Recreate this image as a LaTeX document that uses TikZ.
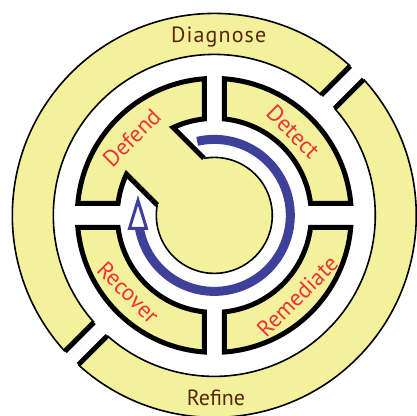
\documentclass[tikz,border=0pt]{standalone}
\usepackage{fontspec}
\newfontfamily\labelfont{PT Sans}
\newfontfamily\spacedfont[LetterSpace=5]{PT Sans}
\usepackage{tikz}
\usetikzlibrary{calc}
\definecolor{pad}{RGB}{244,241,156}
\definecolor{cyclered}{RGB}{238,52,52}
\definecolor{ringbrown}{RGB}{88,38,10}
\definecolor{loopblue}{RGB}{62,64,154}

\begin{document}
\begin{tikzpicture}[x=1pt,y=1pt,
    thinedge/.style={line width=1.6pt},
    thickedge/.style={line width=5pt},
    inlabel/.style={text=cyclered,font=\labelfont\fontsize{23}{23}\selectfont},
    outlabel/.style={text=ringbrown,font=\labelfont\fontsize{22}{22}\selectfont}]
  \useasboundingbox (-214.3,-200.6) rectangle (201.7,215.4);
  \pgfmathsetmacro{\ao}{asin(9.5/202)}
  \pgfmathsetmacro{\ai}{asin(9.5/161)}
  \pgfmathsetmacro{\vo}{asin(10/137)}
  \pgfmathsetmacro{\ho}{asin(12/137)}
  \pgfmathsetmacro{\vi}{asin(10/97)}
  \pgfmathsetmacro{\hi}{asin(12/97)}
  \pgfmathsetmacro{\bi}{asin(33/97)}
  \pgfmathsetmacro{\bc}{asin(33/58)}
  % outer ring, upper half
  \fill[pad] ({45+\ao}:202) arc[start angle={45+\ao}, end angle={225-\ao}, radius=202]
    -- ({225-\ai}:161) arc[start angle={225-\ai}, end angle={45+\ai}, radius=161] -- cycle;
  \draw[thinedge] ({45+\ao}:202) arc[start angle={45+\ao}, end angle={225-\ao}, radius=202];
  \draw[thinedge] ({45+\ai}:161) arc[start angle={45+\ai}, end angle={225-\ai}, radius=161];
  \draw[thickedge] ({45+\ao}:202) -- ({45+\ai}:161);
  \draw[thickedge] ({225-\ao}:202) -- ({225-\ai}:161);
  % outer ring, lower half
  \fill[pad] ({225+\ao}:202) arc[start angle={225+\ao}, end angle={405-\ao}, radius=202]
    -- ({405-\ai}:161) arc[start angle={405-\ai}, end angle={225+\ai}, radius=161] -- cycle;
  \draw[thinedge] ({225+\ao}:202) arc[start angle={225+\ao}, end angle={405-\ao}, radius=202];
  \draw[thinedge] ({225+\ai}:161) arc[start angle={225+\ai}, end angle={405-\ai}, radius=161];
  \draw[thickedge] ({225+\ao}:202) -- ({225+\ai}:161);
  \draw[thickedge] ({405-\ao}:202) -- ({405-\ai}:161);
  % upper right segment
  \draw[thickedge, fill=pad] ({90-\vo}:137) arc[start angle={90-\vo}, end angle=\ho, radius=137]
    -- (\hi:97) arc[start angle=\hi, end angle={90-\vi}, radius=97] -- cycle;
  % lower right segment
  \draw[thickedge, fill=pad] ({-\ho}:137) arc[start angle={-\ho}, end angle={-90+\vo}, radius=137]
    -- ({-90+\vi}:97) arc[start angle={-90+\vi}, end angle={-\hi}, radius=97] -- cycle;
  % lower left segment
  \draw[thickedge, fill=pad] ({-90-\vo}:137) arc[start angle={-90-\vo}, end angle={-180+\ho}, radius=137]
    -- ({-180+\hi}:97) arc[start angle={-180+\hi}, end angle={-90-\vi}, radius=97] -- cycle;
  % upper left segment joined to the hub
  \fill[pad] ({90+\vo}:137) arc[start angle={90+\vo}, end angle={180-\ho}, radius=137]
    -- ({180-\hi}:97) arc[start angle={180-\hi}, end angle={135+\bi}, radius=97]
    -- ({135+\bc}:58) arc[start angle={135+\bc}, end angle={495-\bc}, radius=58]
    -- ({135-\bi}:97) arc[start angle={135-\bi}, end angle={90+\vi}, radius=97] -- cycle;
  \draw[thickedge] ({135-\bc}:58) -- ({135-\bi}:97)
    arc[start angle={135-\bi}, end angle={90+\vi}, radius=97]
    -- ({90+\vo}:137) arc[start angle={90+\vo}, end angle={180-\ho}, radius=137]
    -- ({180-\hi}:97) arc[start angle={180-\hi}, end angle={135+\bi}, radius=97]
    -- ({135+\bc}:58);
  \draw[thinedge] ({135+\bc}:58) arc[start angle={135+\bc}, end angle={495-\bc}, radius=58];
  % loop arrow
  \draw[loopblue, line width=9pt] (103:76) arc[start angle=103, end angle=-170, radius=76];
  \draw[loopblue, line width=3pt, fill=white] (-76.3,15) -- (-84.8,-13) -- (-67.8,-13) -- cycle;
  % labels
  \node[outlabel, font=\spacedfont\fontsize{22}{22}\selectfont, anchor=base] (diagnose) at (4.4,173.1) {Diagnose};
  \node[outlabel, anchor=base] (refine) at (1.7,-189.6) {Refine};
  \node[inlabel, rotate=45] (defend) at (136.7:113.5) {Defend};
  \node[inlabel, rotate=-45] (detect) at (46.7:115) {Detect};
  \node[inlabel, rotate=-45] (recover) at (221.8:115.4) {Recover};
  \node[inlabel, rotate=45] (remediate) at (315.7:116) {Remediate};
\end{tikzpicture}
\end{document}
